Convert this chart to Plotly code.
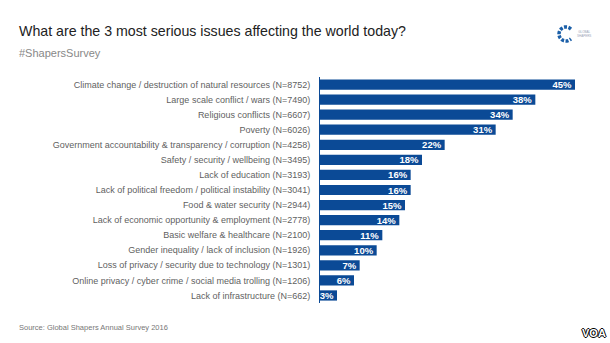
import math
import plotly.graph_objects as go

# Survey results, top answer first
issues = [
    "Climate change / destruction of natural resources (N=8752)",
    "Large scale conflict / wars (N=7490)",
    "Religious conflicts (N=6607)",
    "Poverty (N=6026)",
    "Government accountability & transparency / corruption (N=4258)",
    "Safety / security / wellbeing (N=3495)",
    "Lack of education (N=3193)",
    "Lack of political freedom / political instability (N=3041)",
    "Food & water security (N=2944)",
    "Lack of economic opportunity & employment (N=2778)",
    "Basic welfare & healthcare (N=2100)",
    "Gender inequality / lack of inclusion (N=1926)",
    "Loss of privacy / security due to technology (N=1301)",
    "Online privacy / cyber crime / social media trolling (N=1206)",
    "Lack of infrastructure (N=662)",
]
shares = [45, 38, 34, 31, 22, 18, 16, 16, 15, 14, 11, 10, 7, 6, 3]

BLUE = "#0b4a96"
FONT = "Liberation Sans, Arial, sans-serif"

fig = go.Figure(
    go.Bar(
        x=shares,
        y=issues,
        orientation="h",
        marker=dict(color=BLUE, line=dict(width=0)),
        text=[f"{v}%" for v in shares],
        textposition="inside",
        insidetextanchor="end",
        constraintext="none",
        textfont=dict(color="white", size=9.5, family=FONT, weight="bold"),
        cliponaxis=False,
        hoverinfo="skip",
    )
)

fig.update_layout(
    width=610,
    height=343,
    margin=dict(l=320, r=35, t=77, b=40),
    paper_bgcolor="white",
    plot_bgcolor="white",
    bargap=0.32,
    showlegend=False,
    font=dict(family=FONT),
    xaxis=dict(range=[0, 45], visible=False, fixedrange=True),
    yaxis=dict(
        autorange="reversed",
        showgrid=False,
        showline=True,
        linecolor=BLUE,
        linewidth=1,
        ticks="",
        ticklabelstandoff=7,
        tickfont=dict(size=9, color="#5f5f5f", family=FONT),
        fixedrange=True,
    ),
    annotations=[
        dict(
            text="What are the 3 most serious issues affecting the world today?",
            x=17, y=343 - 31, xref="paper", yref="paper",
            showarrow=False, xanchor="left", yanchor="middle",
            font=dict(size=14.2, color="#222222", family=FONT),
        ),
        dict(
            text="#ShapersSurvey",
            x=17, y=343 - 53, xref="paper", yref="paper",
            showarrow=False, xanchor="left", yanchor="middle",
            font=dict(size=11, color="#888888", family=FONT),
        ),
        dict(
            text="Source: Global Shapers Annual Survey 2016",
            x=17, y=343 - 327, xref="paper", yref="paper",
            showarrow=False, xanchor="left", yanchor="middle",
            font=dict(size=7.5, color="#777777", family=FONT),
        ),
        dict(
            text="<b>VOA</b>",
            x=594, y=343 - 333, xref="paper", yref="paper",
            showarrow=False, xanchor="center", yanchor="middle",
            font=dict(size=11, color="white", family=FONT,
                      shadow="1px 0 0 #000, -1px 0 0 #000, 0 1px 0 #000, 0 -1px 0 #000"),
        ),
        dict(
            text="GLOBAL<br>SHAPERS",
            x=575, y=343 - 34, xref="paper", yref="paper",
            showarrow=False, xanchor="left", yanchor="middle",
            font=dict(size=3, color="#9aa4b8", family=FONT),
        ),
    ],
    shapes=[
        # Global Shapers emblem: a segmented blue "C"
        dict(
            type="path", xref="paper", yref="paper", path="M 0,0",
            line=dict(color="#1b5fa8", width=3.5, dash="3px,1.5px"),
        ),
    ],
)

# Paper coordinates above are given in pixels (y from the bottom); convert to fractions
W, H = 610, 343
pw = W - 320 - 35
ph = H - 77 - 40


def fx(v):
    return (v - 320) / pw


def fy(v):
    return (v - 40) / ph


for a in fig.layout.annotations:
    a.x = fx(a.x)
    a.y = fy(a.y)

# Emblem arc: centre (566, 343-34) in pixels, radius 7, opening to the right
cx, cy, r = 566, 343 - 34, 7
a0, a1 = math.radians(45), math.radians(315)
pts = []
n = 30
for i in range(n + 1):
    t = a0 + (a1 - a0) * i / n
    pts.append((fx(cx + r * math.cos(t)), fy(cy + r * math.sin(t))))
fig.layout.shapes[0].path = "M " + " L ".join(f"{x:.5f},{y:.5f}" for x, y in pts)

fig.write_html("out.html", config={"displayModeBar": False})
